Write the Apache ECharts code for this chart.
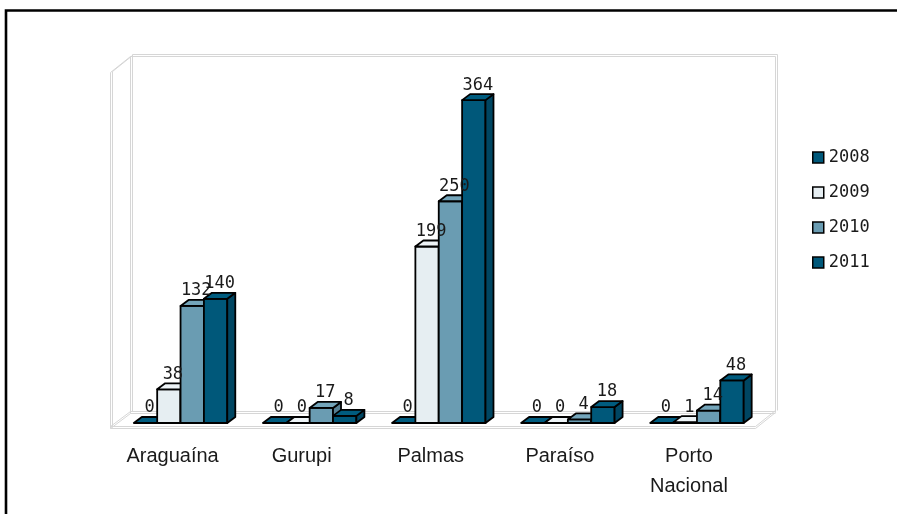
<!DOCTYPE html>
<html>
<head>
<meta charset="utf-8">
<script src="https://cdn.jsdelivr.net/npm/echarts@6/dist/echarts.min.js"></script>
<style>
  html, body { margin: 0; padding: 0; background: #ffffff; }
  #chart { width: 897px; height: 514px; }
</style>
</head>
<body>
<div id="chart"></div>
<script>
// Cities and yearly counts
const categories = ['Araguaína', 'Gurupi', 'Palmas', 'Paraíso', 'Porto\nNacional'];
const years = ['2008', '2009', '2010', '2011'];
const v2008 = [0, 0, 0, 0, 0];
const v2009 = [38, 0, 199, 0, 1];
const v2010 = [132, 17, 250, 4, 14];
const v2011 = [140, 8, 364, 18, 48];
const seriesValues = [v2008, v2009, v2010, v2011];

// Face colours per year: front, side, top
const palettes = [
  { front: '#00587A', side: '#004662', top: '#005C7F' },
  { front: '#E6EEF2', side: '#C9D7DE', top: '#EDF3F6' },
  { front: '#6A9CB2', side: '#557F92', top: '#74A5BA' },
  { front: '#00587A', side: '#004662', top: '#005C7F' }
];

const DEPTH_X = 8, DEPTH_Y = -6;
const OUTLINE = { stroke: '#000000', lineWidth: 1.8, lineJoin: 'round' };

function makeRenderer(si) {
  const pal = palettes[si];
  return function (params, api) {
    const ci = api.value(0);
    const val = api.value(1);
    const base = api.coord([ci, 0]);
    const topPt = api.coord([ci, val]);
    const catW = api.size([1, 0])[0];
    const bw = catW * 0.181;
    const x0 = base[0] - 2 * bw + si * bw;
    const x1 = x0 + bw;
    const yb = base[1];
    const yt = topPt[1];
    const children = [];
    if (yb - yt > 0.5) {
      children.push({
        type: 'polygon',
        shape: { points: [[x0, yb], [x1, yb], [x1, yt], [x0, yt]] },
        style: Object.assign({ fill: pal.front }, OUTLINE)
      });
      children.push({
        type: 'polygon',
        shape: { points: [[x1, yb], [x1 + DEPTH_X, yb + DEPTH_Y], [x1 + DEPTH_X, yt + DEPTH_Y], [x1, yt]] },
        style: Object.assign({ fill: pal.side }, OUTLINE)
      });
    }
    children.push({
      type: 'polygon',
      shape: { points: [[x0, yt], [x1, yt], [x1 + DEPTH_X, yt + DEPTH_Y], [x0 + DEPTH_X, yt + DEPTH_Y]] },
      style: Object.assign({ fill: pal.top }, OUTLINE)
    });
    children.push({
      type: 'text',
      z2: 10,
      style: {
        text: String(val),
        x: x0 + bw / 2 + DEPTH_X / 2,
        y: yt + DEPTH_Y - 9,
        align: 'center',
        verticalAlign: 'middle',
        fill: '#1a1a1a',
        font: '17px "DejaVu Sans Mono", monospace'
      }
    });
    return { type: 'group', children: children };
  };
}

// Walls and floor of the 3D box (light grey double lines)
const wallColor = '#D6D6D6';
function dbl(points, off) {
  return [
    { type: 'polyline', z: 0, silent: true, shape: { points: points }, style: { stroke: wallColor, lineWidth: 1, fill: null } },
    { type: 'polyline', z: 0, silent: true, shape: { points: points.map(p => [p[0] + off[0], p[1] + off[1]]) }, style: { stroke: wallColor, lineWidth: 1, fill: null } }
  ];
}
const wallGraphics = [].concat(
  dbl([[130.5, 413.5], [130.5, 56.5], [775.5, 56.5], [775.5, 412.5]], [2, -2]),
  dbl([[110.5, 428.5], [110.5, 72.5], [130.5, 56.5]], [2, -1]),
  dbl([[110.5, 428.5], [755.5, 428.5], [775.5, 412.5]], [0, -2]),
  dbl([[110.5, 428.5], [130.5, 413.5], [775.5, 413.5]], [0, -2])
);

const chart = echarts.init(document.getElementById('chart'), null, { renderer: 'canvas' });

chart.setOption({
  backgroundColor: '#ffffff',
  animation: false,
  grid: { left: 116, right: 135.5, top: 68.2, bottom: 91 },
  xAxis: {
    type: 'category',
    data: categories,
    axisLine: { show: false },
    axisTick: { show: false },
    splitLine: { show: false },
    axisLabel: {
      interval: 0,
      margin: 18,
      color: '#1a1a1a',
      fontFamily: '"Liberation Sans", Arial, sans-serif',
      fontSize: 20,
      lineHeight: 30,
      padding: [0, 16, 0, 0]
    }
  },
  yAxis: {
    type: 'value',
    min: 0,
    max: 400,
    show: false
  },
  legend: {
    orient: 'vertical',
    left: 812,
    top: 149,
    padding: 0,
    itemWidth: 11,
    itemHeight: 11,
    itemGap: 18,
    icon: 'rect',
    textStyle: {
      color: '#1a1a1a',
      fontFamily: '"DejaVu Sans Mono", monospace',
      fontSize: 17,
      padding: [0, 0, 0, 0]
    },
    data: years.map((y, i) => ({
      name: y,
      itemStyle: { color: palettes[i].front, borderColor: '#000000', borderWidth: 1.5 }
    }))
  },
  graphic: wallGraphics.concat([
    {
      type: 'rect', z: 0, silent: true,
      shape: { x: 6, y: 10.5, width: 905, height: 520 },
      style: { fill: null, stroke: '#000000', lineWidth: 2.6 }
    }
  ]),
  series: years.map((y, si) => ({
    type: 'custom',
    name: y,
    z: 3,
    itemStyle: { color: palettes[si].front },
    renderItem: makeRenderer(si),
    encode: { x: 0, y: 1 },
    data: seriesValues[si].map((v, ci) => [ci, v])
  }))
});
</script>
</body>
</html>
